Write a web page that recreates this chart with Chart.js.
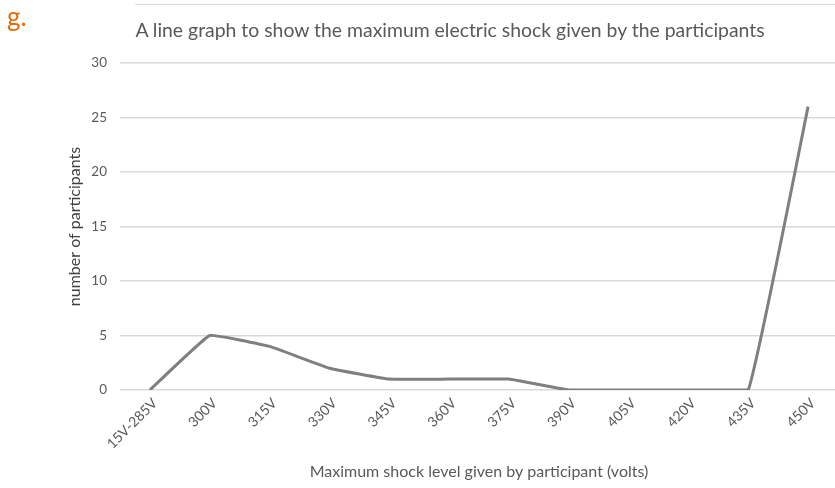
<!DOCTYPE html>
<html>
<head>
<meta charset="utf-8">
<script src="https://cdn.jsdelivr.net/npm/chart.js@4.4.1/dist/chart.umd.min.js"></script>
<style>
  html, body { margin: 0; padding: 0; background: #ffffff; overflow: hidden; width: 835px; height: 488px; }
  #wrap { position: relative; width: 845px; height: 488px; }
  #chart { position: absolute; left: 0; top: 0; }
  #label {
    position: absolute; left: 7px; top: 0px;
    font-family: Lato, "Open Sans", sans-serif; font-size: 26px; color: #e46c0a;
  }
  #heading {
    position: absolute; left: 0; width: 900px; top: 18px; text-align: center;
    font-family: Lato, "Open Sans", sans-serif; font-size: 19.4px; color: #595959;
  }
  #rule { position: absolute; left: 135px; top: 4px; width: 720px; height: 0; border-top: 1px solid #d9d9d9; }
</style>
</head>
<body>
<div id="wrap">
  <canvas id="chart" width="845" height="488"></canvas>
  <div id="rule"></div>
  <div id="label">g.</div>
  <div id="heading">A line graph to show the maximum electric shock given by the participants</div>
</div>
<script>
// Highest shock level reached by each participant
const shockLevels = ['15V-285V', '300V', '315V', '330V', '345V', '360V', '375V', '390V', '405V', '420V', '435V', '450V'];
const participantCounts = [0, 5, 4, 2, 1, 1, 1, 0, 0, 0, 0, 26];
const yTicks = [0, 5, 10, 15, 20, 25, 30];

const fontFamily = 'Lato, "Open Sans", sans-serif';
const textColor = '#595959';
const gridColor = '#d9d9d9';

new Chart(document.getElementById('chart'), {
  type: 'line',
  data: {
    labels: shockLevels,
    datasets: [{
      data: participantCounts,
      borderColor: '#7f7f7f',
      borderWidth: 3,
      pointRadius: 0,
      tension: 0.08,
      fill: false
    }]
  },
  options: {
    responsive: false,
    animation: false,
    layout: { padding: { top: 63, right: 7, left: 0, bottom: 0 } },
    plugins: {
      legend: { display: false },
      title: { display: false },
      tooltip: { enabled: false }
    },
    scales: {
      x: {
        offset: true,
        grid: { display: false, drawTicks: false },
        border: { display: false },
        ticks: {
          minRotation: 45,
          maxRotation: 45,
          autoSkip: false,
          padding: 5,
          labelOffset: 5,
          color: textColor,
          font: { family: fontFamily, size: 14 }
        },
        title: {
          display: true,
          text: 'Maximum shock level given by participant (volts)',
          color: textColor,
          font: { family: fontFamily, size: 16 },
          padding: { top: 4, bottom: 7 }
        },
        afterFit: (scale) => { scale.height = 98; }
      },
      y: {
        min: 0,
        max: 30,
        afterBuildTicks: (scale) => { scale.ticks = yTicks.map(v => ({ value: v })); },
        grid: { color: gridColor, lineWidth: 1.5, drawTicks: false },
        border: { display: false },
        ticks: {
          padding: 13,
          color: textColor,
          font: { family: fontFamily, size: 13.5 }
        },
        title: {
          display: true,
          text: 'number of participants',
          color: '#404040',
          font: { family: fontFamily, size: 16 },
          padding: { top: 65, bottom: 0 }
        },
        afterFit: (scale) => { scale.width = 120; }
      }
    }
  }
});
</script>
</body>
</html>
